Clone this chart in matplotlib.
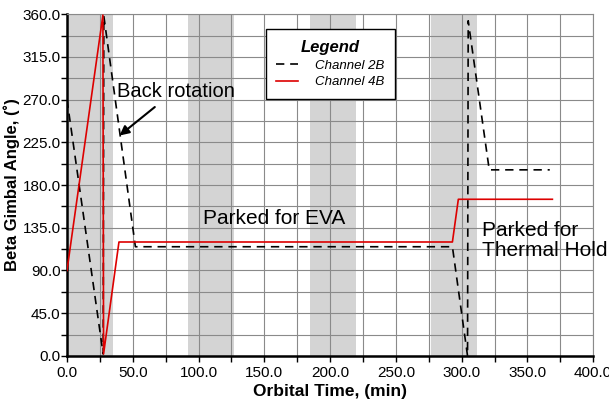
import numpy as np
import matplotlib
matplotlib.use("Agg")
import matplotlib.pyplot as plt
from matplotlib.ticker import MultipleLocator, FormatStrFormatter

plt.rcParams['font.family'] = ['Liberation Sans', 'DejaVu Sans']

# --- Données ---
# Canal 2B (tirets noirs)
t_2b = [0.0, 27.5, 28.0, 52.0, 293.0, 304.5, 305.0, 321.0, 367.0]
beta_2b = [270.0, 2.0, 358.0, 115.0, 115.0, 0.0, 353.0, 196.0, 196.0]

# Canal 4B (trait rouge)
t_4b = [0.0, 27.3, 27.8, 39.5, 293.0, 297.5, 369.0]
beta_4b = [90.0, 359.0, 2.0, 120.0, 120.0, 165.0, 165.0]

# Périodes d'éclipse (bandes grises)
eclipse_start = [0.0, 92.0, 184.5, 276.5]
eclipse_end = [34.7, 127.0, 219.5, 311.8]

fig = plt.figure(figsize=(6.09, 4.04), dpi=100)
ax = fig.add_axes([0.110, 0.119, 0.864, 0.846])

for a, b in zip(eclipse_start, eclipse_end):
    ax.axvspan(a, b, color='#d4d4d4', lw=0, zorder=1)

ax.plot(t_2b, beta_2b, color='black', lw=1.2, ls=(0, (5, 3.5)), label='Channel 2B', zorder=3)
ax.plot(t_4b, beta_4b, color='#dd0000', lw=1.2, label='Channel 4B', zorder=3)

ax.set_xlim(0, 400)
ax.set_ylim(0, 360)
ax.xaxis.set_major_locator(MultipleLocator(50))
ax.xaxis.set_minor_locator(MultipleLocator(25))
ax.yaxis.set_major_locator(MultipleLocator(45))
ax.yaxis.set_minor_locator(MultipleLocator(22.5))
ax.xaxis.set_major_formatter(FormatStrFormatter('%.1f'))
ax.yaxis.set_major_formatter(FormatStrFormatter('%.1f'))
ax.tick_params(which='both', direction='out', length=4, width=1, labelsize=11, color='black')
ax.tick_params(axis='y', which='both', pad=0.5)
ax.tick_params(axis='x', which='both', pad=3)

ax.set_axisbelow('line')
ax.grid(which='both', color='#8a8a8a', lw=0.8)

for s in ['left', 'bottom']:
    ax.spines[s].set_linewidth(1.8)
for s in ['top', 'right']:
    ax.spines[s].set_color('#8a8a8a')
    ax.spines[s].set_linewidth(0.8)

ax.set_xlabel('Orbital Time, (min)', fontsize=12.5, fontweight='bold', labelpad=3)
ax.set_ylabel('Beta Gimbal Angle, (˚)', fontsize=12, fontweight='bold', labelpad=2)

# Annotations
ax.annotate('', xy=(38.3, 230.3), xytext=(68.4, 264.0),
            arrowprops=dict(arrowstyle='-|>', color='black', lw=1.5, mutation_scale=14),
            zorder=4)
ax.text(37.8, 272.5, 'Back rotation', fontsize=14.5, va='baseline', ha='left', zorder=4)
ax.text(103.7, 139.4, 'Parked for EVA', fontsize=15, va='baseline', ha='left', zorder=4)
ax.text(315.4, 126.8, 'Parked for', fontsize=15, va='baseline', ha='left', zorder=4)
ax.text(315.4, 105.7, 'Thermal Hold', fontsize=15, va='baseline', ha='left', zorder=4)

leg = ax.legend(loc='upper left', bbox_to_anchor=(0.378, 0.956), title='Legend',
                prop={'style': 'italic', 'size': 9.5},
                title_fontproperties={'weight': 'bold', 'style': 'italic', 'size': 12},
                fancybox=False, framealpha=1, edgecolor='black', borderpad=0.8,
                handlelength=1.65, handletextpad=1.3, labelspacing=0.35, borderaxespad=0)
leg.get_frame().set_linewidth(1.0)
leg.set_zorder(5)

fig.savefig('out.png', dpi=100)
